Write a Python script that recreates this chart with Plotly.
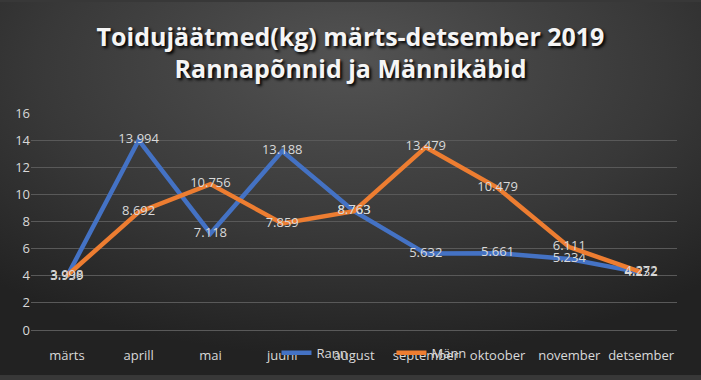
import base64
import plotly.graph_objects as go

months = ["märts", "aprill", "mai", "juuni", "august", "september", "oktoober", "november", "detsember"]
rann = [3.939, 13.994, 7.118, 13.188, 8.763, 5.632, 5.661, 5.234, 4.232]
mann = [3.998, 8.692, 10.756, 7.859, 8.763, 13.479, 10.479, 6.111, 4.272]
y_ticks = [0, 2, 4, 6, 8, 10, 12, 14, 16]

W, H = 701, 380
ML, MR, MT, MB = 31, 24, 113, 46
PW, PH = W - ML - MR, H - MT - MB

svg = f'''<svg xmlns="http://www.w3.org/2000/svg" width="{W}" height="{H}">
<defs><radialGradient id="g" cx="50%" cy="20%" r="75%" fx="50%" fy="15%">
<stop offset="0%" stop-color="#535353"/>
<stop offset="60%" stop-color="#383838"/>
<stop offset="100%" stop-color="#222222"/>
</radialGradient></defs>
<rect width="{W}" height="{H}" fill="url(#g)"/></svg>'''
src = "data:image/svg+xml;base64," + base64.b64encode(svg.encode()).decode()

fig = go.Figure()
fig.add_trace(go.Scatter(
    x=months, y=rann, name="Rann", mode="lines+text",
    line=dict(color="#4472C4", width=4.5),
    text=[f"{v:.3f}" for v in rann], textposition="middle center",
    textfont=dict(color="#d9d9d9", size=13, family="Open Sans"),
))
fig.add_trace(go.Scatter(
    x=months, y=mann, name="Männ", mode="lines+text",
    line=dict(color="#ED7D31", width=4.5),
    text=[f"{v:.3f}" for v in mann], textposition="middle center",
    textfont=dict(color="#d9d9d9", size=13, family="Open Sans"),
))

fig.update_layout(
    width=W, height=H,
    margin=dict(l=ML, r=MR, t=MT, b=MB),
    paper_bgcolor="#383838", plot_bgcolor="rgba(0,0,0,0)",
    images=[dict(source=src, xref="paper", yref="paper",
                 x=-ML / PW, y=1 + MT / PH, sizex=W / PW, sizey=H / PH,
                 xanchor="left", yanchor="top", sizing="stretch", layer="below")],
    title=dict(
        text="Toidujäätmed(kg) märts-detsember 2019<br>Rannapõnnid ja Männikäbid",
        x=0.5, xanchor="center", y=0.879, yanchor="top",
        font=dict(family="Open Sans", size=25, color="#f5f5f5",
                  weight="bold", shadow="2px 2px 3px #000000"),
    ),
    font=dict(family="Open Sans", color="#d9d9d9", size=13),
    showlegend=True,
    legend=dict(orientation="h", x=0.38, xanchor="left", y=-0.105, yanchor="middle",
                bgcolor="rgba(0,0,0,0)", font=dict(size=13, color="#d9d9d9"),
                entrywidth=70, entrywidthmode="pixels", tracegroupgap=0),
)
fig.update_xaxes(showgrid=False, showline=False, zeroline=False, ticks="",
                 tickfont=dict(size=13, color="#d9d9d9"), range=[-0.5, 8.5],
                 ticklabelstandoff=16)
fig.update_yaxes(range=[0, 16], tickvals=y_ticks, showgrid=True, gridcolor="#595959",
                 gridwidth=1, zeroline=True, zerolinecolor="#595959", zerolinewidth=1,
                 showline=False, ticks="",
                 tickfont=dict(size=13, color="#d9d9d9"), ticklabelstandoff=0)

fig.write_html("out.html", config={"displayModeBar": False},
               post_script="document.body.style.margin='0';document.body.style.padding='0';")
